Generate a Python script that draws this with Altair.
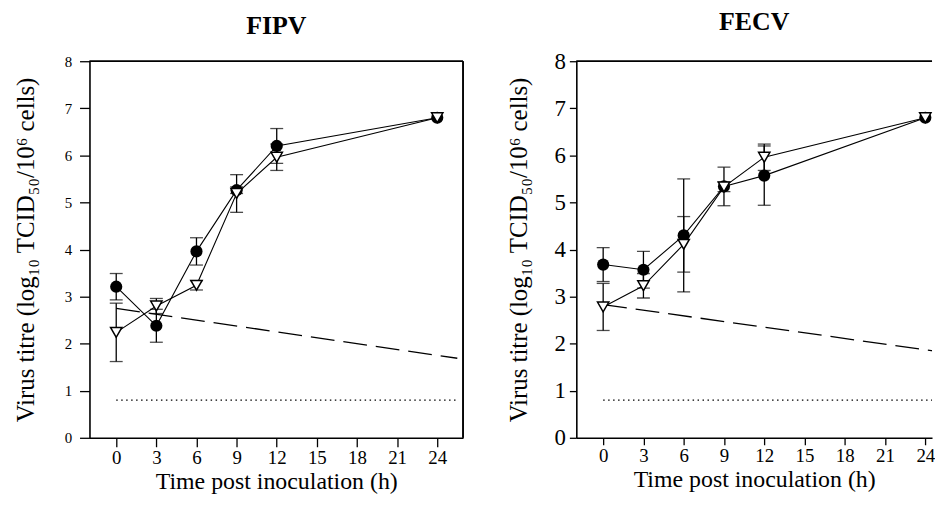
import altair as alt
import pandas as pd

hours = [0, 3, 6, 9, 12, 24]
x_ticks = [0, 3, 6, 9, 12, 15, 18, 21, 24]
y_ticks = [0, 1, 2, 3, 4, 5, 6, 7, 8]

# FIPV panel
fipv_circle = [3.21, 2.38, 3.96, 5.26, 6.20, 6.80]
fipv_circle_err = [0.28, 0.35, 0.29, 0.07, 0.37, 0.0]
fipv_tri = [2.24, 2.80, 3.24, 5.19, 5.96, 6.80]
fipv_tri_err = [0.62, 0.16, 0.10, 0.40, 0.28, 0.0]
fipv_decay_x = [0, 25.5]
fipv_decay_y = [2.75, 1.69]

# FECV panel
fecv_circle = [3.68, 3.57, 4.30, 5.34, 5.57, 6.80]
fecv_circle_err = [0.36, 0.39, 1.20, 0.41, 0.63, 0.0]
fecv_tri = [2.78, 3.23, 4.11, 5.33, 5.96, 6.80]
fecv_tri_err = [0.50, 0.26, 0.59, 0.10, 0.28, 0.0]
fecv_decay_x = [0, 25.5]
fecv_decay_y = [2.83, 1.81]

detect_x = [0, 25.5]
detect_y = [0.8, 0.8]

SERIF = "Liberation Serif"
YTITLE = "Virus titre (log\u2081\u2080 TCID\u2085\u2080/10\u2076 cells)"


def panel(title, circ, circ_err, tri, tri_err, dx, dy, xmax, width, height,
          ylab_size, ytick, xtick, lab_pad, title_pad, right_border):
    pts = pd.DataFrame({
        "h": hours * 2,
        "v": circ + tri,
        "e": circ_err + tri_err,
        "s": ["circle"] * len(hours) + ["tri"] * len(hours),
    })
    pts["lo"] = pts["v"] - pts["e"]
    pts["hi"] = pts["v"] + pts["e"]
    errs = pts[pts["e"] > 0]
    decay = pd.DataFrame({"h": dx, "v": dy})
    detect = pd.DataFrame({"h": detect_x, "v": detect_y})

    xs = alt.Scale(domain=[-2, xmax], nice=False, zero=False)
    ys = alt.Scale(domain=[0, 8], nice=False)
    xax = alt.Axis(values=x_ticks, title="Time post inoculation (h)", grid=False,
                   tickSize=xtick, labelFontSize=19, titleFontSize=24,
                   labelPadding=2, titlePadding=2, labelFont=SERIF, titleFont=SERIF,
                   titleFontWeight="normal", domainColor="black", tickColor="black",
                   labelColor="black", titleColor="black", domainWidth=1.6, tickWidth=1.3)
    yax = alt.Axis(values=y_ticks, title=YTITLE, grid=False, tickSize=ytick,
                   labelFontSize=ylab_size, titleFontSize=25, labelPadding=lab_pad,
                   titlePadding=title_pad, labelFont=SERIF, titleFont=SERIF,
                   titleFontWeight="normal", domainColor="black", tickColor="black",
                   labelColor="black", titleColor="black", domainWidth=1.6, tickWidth=1.3)
    X = alt.X("h:Q", scale=xs, axis=xax)
    Y = alt.Y("v:Q", scale=ys, axis=yax)

    base = alt.Chart(pts)
    lines = base.mark_line(color="black", strokeWidth=1.1).encode(
        x=X, y=Y, detail="s:N")
    dashed = alt.Chart(decay).mark_line(color="black", strokeWidth=1.3,
                                        strokeDash=[24, 9], clip=True).encode(
        x=alt.X("h:Q", scale=xs), y=alt.Y("v:Q", scale=ys))
    dotted = alt.Chart(detect).mark_line(color="black", strokeWidth=1.2,
                                         strokeDash=[1.5, 3.5], clip=True).encode(
        x=alt.X("h:Q", scale=xs), y=alt.Y("v:Q", scale=ys))
    ebar = alt.Chart(errs).mark_rule(color="black", strokeWidth=1.3).encode(
        x=alt.X("h:Q", scale=xs), y=alt.Y("lo:Q", scale=ys), y2="hi:Q")
    cap_lo = alt.Chart(errs).mark_tick(color="black", orient="horizontal", size=13,
                                       thickness=1.3).encode(
        x=alt.X("h:Q", scale=xs), y=alt.Y("lo:Q", scale=ys))
    cap_hi = alt.Chart(errs).mark_tick(color="black", orient="horizontal", size=13,
                                       thickness=1.3).encode(
        x=alt.X("h:Q", scale=xs), y=alt.Y("hi:Q", scale=ys))
    circles = alt.Chart(pts[pts["s"] == "circle"]).mark_point(
        shape="circle", filled=True, color="black", size=150, opacity=1).encode(
        x=alt.X("h:Q", scale=xs), y=alt.Y("v:Q", scale=ys))
    tris = alt.Chart(pts[pts["s"] == "tri"]).mark_point(
        shape="triangle-down", filled=True, fill="white", stroke="black",
        strokeWidth=1.5, size=130, opacity=1).encode(
        x=alt.X("h:Q", scale=xs), y=alt.Y("v:Q", scale=ys))
    top = alt.Chart(decay).mark_rule(color="black", strokeWidth=1.6).encode(
        x=alt.value(0), x2=alt.value(width), y=alt.value(0))
    layers = [dotted, dashed, lines, ebar, cap_lo, cap_hi, circles, tris, top]
    if right_border:
        layers.append(alt.Chart(decay).mark_rule(color="black", strokeWidth=1.6).encode(
            x=alt.value(width), y=alt.value(0), y2=alt.value(height)))
    return alt.layer(*layers).properties(
        width=width, height=height,
        title=alt.TitleParams(title, fontSize=26, font=SERIF, fontWeight="bold",
                              anchor="middle", offset=12, dy=-3, color="black"))


left = panel("FIPV", fipv_circle, fipv_circle_err, fipv_tri, fipv_tri_err,
             fipv_decay_x, fipv_decay_y, 25.93, 376, 379, 15, 10, 9, 8, 26, True)
right = panel("FECV", fecv_circle, fecv_circle_err, fecv_tri, fecv_tri_err,
              fecv_decay_x, fecv_decay_y, 24.5, 358, 379, 23, 7, 7, 4, 23, False)

chart = alt.hconcat(left, right, spacing=42).properties(
    padding={"left": 5, "top": 0, "right": 0, "bottom": 0}
).configure_view(stroke=None)

chart.save("out.html", embed_options={"renderer": "svg", "actions": False})
